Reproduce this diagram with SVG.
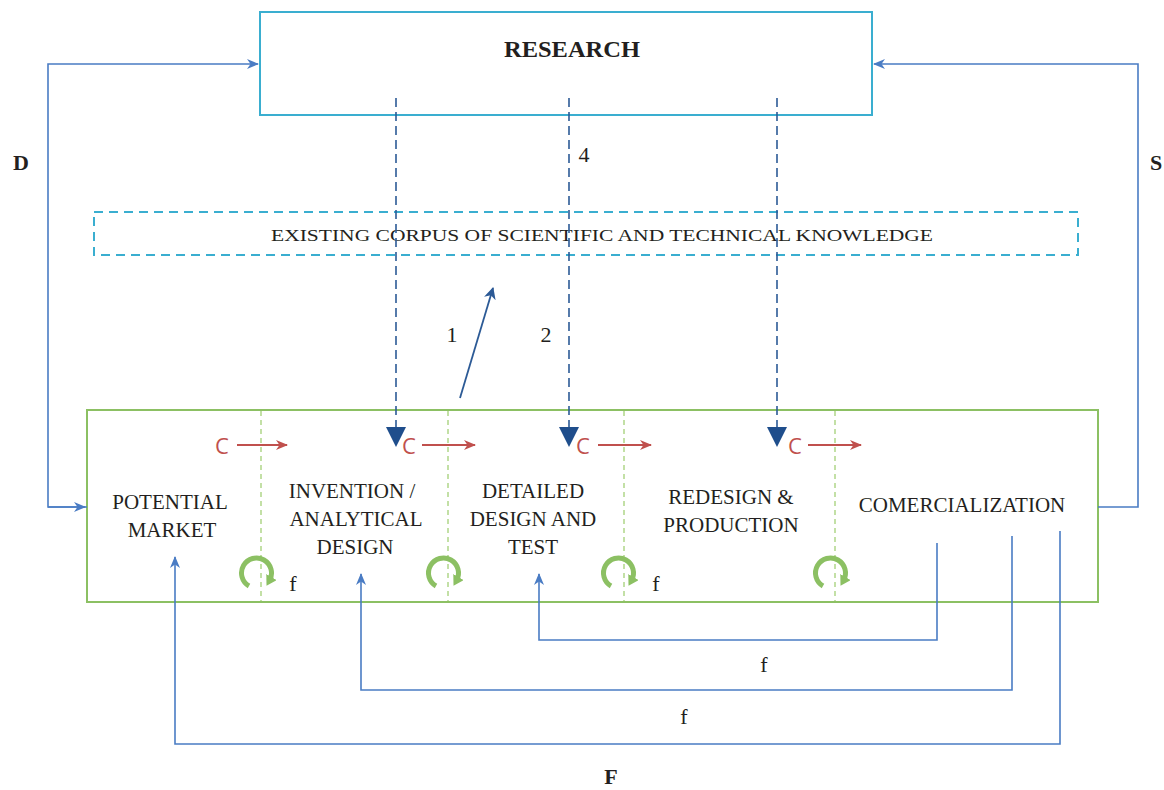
<svg xmlns="http://www.w3.org/2000/svg" width="1164" height="790" viewBox="0 0 1164 790">
<style>
.t{font-family:"Liberation Serif","DejaVu Serif",serif;fill:#231f20;font-size:21px;text-anchor:middle}
.n{font-size:22px}
.b{font-weight:bold}
.fb{fill:none;stroke:#4a7cc4;stroke-width:1.6}
.dash{fill:none;stroke:#2c5a96;stroke-width:1.6;stroke-dasharray:9,5}
.div{stroke:#9ccc6c;stroke-width:1.2;stroke-dasharray:5,4}
.cr{fill:none;stroke:#c0504d;stroke-width:2}
.ct{font-family:"Open Sans","Liberation Sans",sans-serif;fill:#c0504d;font-size:22px}
.loop{fill:none;stroke:#8cc063;stroke-width:5}
.tri{fill:#1f4e8c}
</style>
<defs>
<marker id="ab" markerWidth="14" markerHeight="10" refX="11" refY="5" orient="auto" markerUnits="userSpaceOnUse">
<path d="M0,0 L12,5 L0,10 L3.5,5 z" fill="#4a7cc4"/>
</marker>
<marker id="ad" markerWidth="14" markerHeight="12" refX="11" refY="6" orient="auto" markerUnits="userSpaceOnUse">
<path d="M0,0 L12,6 L0,12 L3.5,6 z" fill="#2c5a96"/>
</marker>
<marker id="ar" markerWidth="14" markerHeight="10" refX="11" refY="5" orient="auto" markerUnits="userSpaceOnUse">
<path d="M0,0 L12,5 L0,10 L3.5,5 z" fill="#c0504d"/>
</marker>
<marker id="ag" markerWidth="12" markerHeight="12" refX="4" refY="6" orient="auto" markerUnits="userSpaceOnUse">
<path d="M0,0 L10,6 L0,12 z" fill="#8cc063"/>
</marker>
</defs>

<g id="research">
<rect x="260" y="12" width="612" height="103" fill="none" stroke="#3aaed0" stroke-width="2"/>
<text class="t b" x="572" y="57" style="font-size:23px" textLength="136" lengthAdjust="spacingAndGlyphs">RESEARCH</text>
</g>

<g id="corpus">
<rect x="94" y="212" width="984" height="43" fill="none" stroke="#3aaed0" stroke-width="2" stroke-dasharray="9,6"/>
<text class="t" x="602" y="241" style="font-size:17.5px" textLength="662" lengthAdjust="spacingAndGlyphs">EXISTING CORPUS OF SCIENTIFIC AND TECHNICAL KNOWLEDGE</text>
</g>

<g id="process">
<rect x="87" y="410" width="1011" height="192" fill="none" stroke="#8cc063" stroke-width="2"/>
<line class="div" x1="261" y1="411" x2="261" y2="601"/>
<line class="div" x1="448" y1="411" x2="448" y2="601"/>
<line class="div" x1="624" y1="411" x2="624" y2="601"/>
<line class="div" x1="835" y1="411" x2="835" y2="601"/>
</g>

<g id="potential-market">
<text class="t" x="170" y="509">POTENTIAL</text>
<text class="t" x="172" y="537">MARKET</text>
</g>
<g id="invention">
<text class="t" x="352" y="498">INVENTION /</text>
<text class="t" x="356" y="526">ANALYTICAL</text>
<text class="t" x="355" y="554">DESIGN</text>
</g>
<g id="detailed-design">
<text class="t" x="533" y="498">DETAILED</text>
<text class="t" x="533" y="526">DESIGN AND</text>
<text class="t" x="533" y="554">TEST</text>
</g>
<g id="redesign">
<text class="t" x="731" y="504">REDESIGN &amp;</text>
<text class="t" x="731" y="532">PRODUCTION</text>
</g>
<g id="commercialization">
<text class="t" x="962" y="512">COMERCIALIZATION</text>
</g>

<g id="c-arrows">
<text class="ct" x="215" y="454">C</text>
<line class="cr" x1="237" y1="445" x2="287" y2="445" marker-end="url(#ar)"/>
<text class="ct" x="402" y="454">C</text>
<line class="cr" x1="422" y1="445" x2="475" y2="445" marker-end="url(#ar)"/>
<text class="ct" x="576" y="454">C</text>
<line class="cr" x1="598" y1="445" x2="651" y2="445" marker-end="url(#ar)"/>
<text class="ct" x="788" y="454">C</text>
<line class="cr" x1="808" y1="445" x2="861" y2="445" marker-end="url(#ar)"/>
</g>

<g id="loops">
<path class="loop" d="M249,586 A15,15 0 1 1 269.5,580.5" marker-end="url(#ag)"/>
<path class="loop" d="M436,586 A15,15 0 1 1 456.5,580.5" marker-end="url(#ag)"/>
<path class="loop" d="M611,586 A15,15 0 1 1 631.5,580.5" marker-end="url(#ag)"/>
<path class="loop" d="M823,586 A15,15 0 1 1 843.5,580.5" marker-end="url(#ag)"/>
<text class="t n" x="293" y="591">f</text>
<text class="t n" x="656" y="591">f</text>
</g>

<g id="connectors">
<line class="dash" x1="396" y1="98" x2="396" y2="428"/>
<line class="dash" x1="569" y1="98" x2="569" y2="428"/>
<line class="dash" x1="777" y1="98" x2="777" y2="428"/>
<path class="tri" d="M386,427 L406,427 L396,447 z"/>
<path class="tri" d="M559,427 L579,427 L569,447 z"/>
<path class="tri" d="M767,427 L787,427 L777,447 z"/>
<line x1="460" y1="398" x2="493" y2="288" stroke="#2c5a96" stroke-width="1.8" marker-end="url(#ad)"/>
<text class="t n" x="452" y="342">1</text>
<text class="t n" x="546" y="342">2</text>
<text class="t n" x="584" y="162">4</text>

<path class="fb" d="M87,507 H48 V64 H258" marker-end="url(#ab)"/>
<line class="fb" x1="48" y1="507" x2="85" y2="507" marker-end="url(#ab)"/>
<path class="fb" d="M1098,507 H1138 V64 H874" marker-end="url(#ab)"/>
<text class="t n b" x="21" y="170">D</text>
<text class="t n b" x="1156" y="170">S</text>

<path class="fb" d="M937,543 V640 H539 V574" marker-end="url(#ab)"/>
<path class="fb" d="M1012,536 V690 H361 V574" marker-end="url(#ab)"/>
<path class="fb" d="M1060,531 V744 H175 V557" marker-end="url(#ab)"/>
<text class="t n" x="764" y="672">f</text>
<text class="t n" x="684" y="724">f</text>
<text class="t n b" x="611" y="784">F</text>
</g>
</svg>
